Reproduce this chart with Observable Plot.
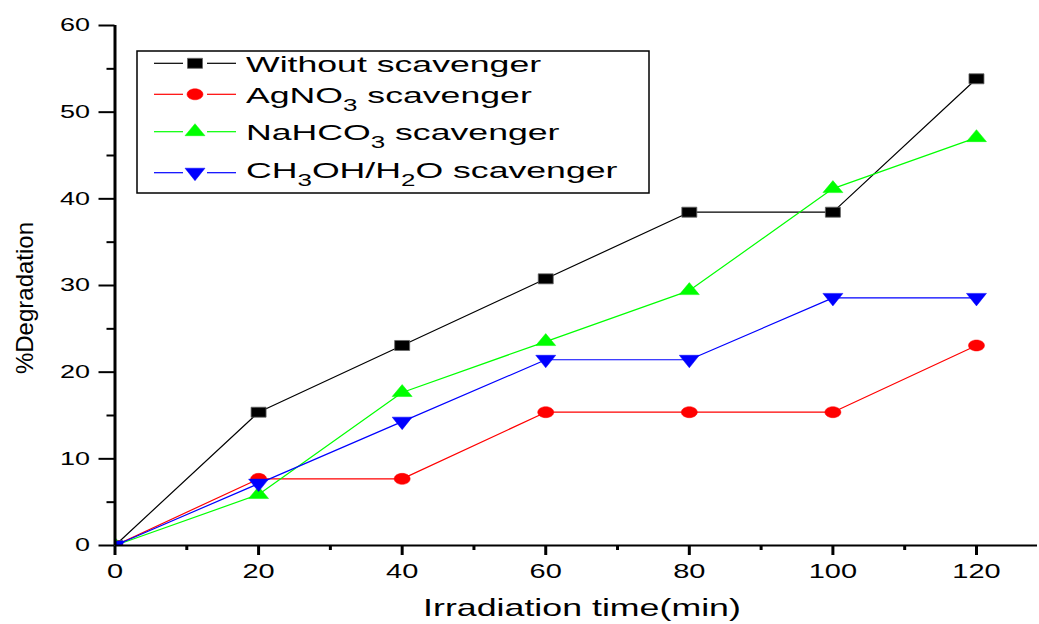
<!DOCTYPE html>
<html>
<head>
<meta charset="utf-8">
<script src="https://cdn.jsdelivr.net/npm/d3@7"></script>
<script src="https://cdn.jsdelivr.net/npm/@observablehq/plot@0.6"></script>
<style>
  html, body { margin: 0; padding: 0; background: #fff; }
  #chart { width: 1039px; height: 624px; }
</style>
</head>
<body>
<div id="chart"></div>
<script>
// ---- data ----
const times = [0, 20, 40, 60, 80, 100, 120];
const withoutScavenger = [0, 15.38, 23.08, 30.77, 38.46, 38.46, 53.85];
const agno3Scavenger   = [0, 7.69, 7.69, 15.38, 15.38, 15.38, 23.08];
const nahco3Scavenger  = [0, 5.88, 17.65, 23.53, 29.41, 41.18, 47.06];
const ch3ohScavenger   = [0, 7.14, 14.29, 21.43, 21.43, 28.57, 28.57];

const seriesNames = ["Without scavenger", "AgNO3 scavenger", "NaHCO3 scavenger", "CH3OH/H2O scavenger"];
const seriesColors = ["#000000", "#ff0000", "#00ff00", "#0000ff"];
const xMajorTicks = [0, 20, 40, 60, 80, 100, 120];
const xMinorTicks = [10, 30, 50, 70, 90, 110];
const yMajorTicks = [0, 10, 20, 30, 40, 50, 60];
const yMinorTicks = [5, 15, 25, 35, 45, 55];
const xTitle = "Irradiation time(min)";
const yTitle = "%Degradation";

// ---- symbols (stretched like the reference) ----
const squareSym = {draw(ctx) { ctx.moveTo(-7.5, -5); ctx.lineTo(7.5, -5); ctx.lineTo(7.5, 5); ctx.lineTo(-7.5, 5); ctx.closePath(); }};
const ellipseSym = {draw(ctx) {
  const rx = 8, ry = 5.5, k = 0.5523;
  ctx.moveTo(rx, 0);
  ctx.bezierCurveTo(rx, ry * k, rx * k, ry, 0, ry);
  ctx.bezierCurveTo(-rx * k, ry, -rx, ry * k, -rx, 0);
  ctx.bezierCurveTo(-rx, -ry * k, -rx * k, -ry, 0, -ry);
  ctx.bezierCurveTo(rx * k, -ry, rx, -ry * k, rx, 0);
  ctx.closePath();
}};
const triUpSym = {draw(ctx) { ctx.moveTo(0, -8); ctx.lineTo(10, 4); ctx.lineTo(-10, 4); ctx.closePath(); }};
const triDownSym = {draw(ctx) { ctx.moveTo(0, 8); ctx.lineTo(10, -4.5); ctx.lineTo(-10, -4.5); ctx.closePath(); }};
const seriesSymbols = [squareSym, ellipseSym, triUpSym, triDownSym];
const seriesValues = [withoutScavenger, agno3Scavenger, nahco3Scavenger, ch3ohScavenger];

const series = seriesValues.map((vals, s) => times.map((t, i) => ({time: t, value: vals[i], s})));

const lineMarks = series.map((d, s) => Plot.line(d, {x: "time", y: "value", stroke: seriesColors[s], strokeWidth: 1.2}));
const dotMarks = series.map((d, s) => Plot.dot(d, {
  x: "time", y: "value", symbol: seriesSymbols[s], r: 6,
  fill: seriesColors[s], stroke: s === 0 ? "#666" : seriesColors[s], strokeWidth: s === 0 ? 0.8 : 0.5, clip: true
}));

const svg = Plot.plot({
  width: 1039, height: 624,
  marginLeft: 114.5, marginRight: 2, marginTop: 25, marginBottom: 79,
  x: {domain: [0, 128.5], label: null},
  y: {domain: [0, 60], label: null},
  style: {fontFamily: "'Liberation Sans', Arial, sans-serif", background: "white", color: "black", overflow: "visible"},
  marks: [
    Plot.axisX(xMajorTicks, {anchor: "bottom", tickSize: 10, tickPadding: 8, strokeWidth: 3, fontSize: 20, label: null}),
    Plot.axisX(xMinorTicks, {anchor: "bottom", tickSize: 5, strokeWidth: 3, tickFormat: () => "", label: null}),
    Plot.axisY(yMajorTicks, {anchor: "left", tickSize: 16, tickPadding: 9, strokeWidth: 2, fontSize: 18, label: null}),
    Plot.axisY(yMinorTicks, {anchor: "left", tickSize: 8, strokeWidth: 2, tickFormat: () => "", label: null}),
    ...lineMarks,
    ...dotMarks,
    Plot.ruleY([0], {strokeWidth: 2}),
    Plot.ruleX([0], {strokeWidth: 3})
  ]
});

document.getElementById("chart").appendChild(svg);

// stretch tick labels horizontally like the reference
function stretch(sel, sx, fs) {
  svg.querySelectorAll(sel).forEach(g => {
    g.setAttribute("font-size", fs);
    g.style.fontSize = fs + "px";
    g.querySelectorAll("text").forEach(t => {
      const tr = t.getAttribute("transform");
      if (tr) t.setAttribute("transform", tr + ` scale(${sx},1)`);
    });
  });
}
stretch('g[aria-label="x-axis tick label"]', 1.45, 20);
stretch('g[aria-label="y-axis tick label"]', 1.5, 18);

const root = d3.select(svg);
const FONT = "'Liberation Sans', Arial, sans-serif";

// axis titles
root.append("text")
  .attr("transform", "translate(582,616) scale(1.49,1)")
  .attr("text-anchor", "middle").attr("font-size", 24).attr("font-family", FONT).attr("fill", "black")
  .text(xTitle);
root.append("text")
  .attr("transform", "translate(24,298) rotate(-90)")
  .attr("text-anchor", "middle").attr("dominant-baseline", "central")
  .attr("font-size", 24).attr("font-family", FONT).attr("fill", "black")
  .text(yTitle);

// legend
const lg = root.append("g").attr("font-family", FONT).attr("text-anchor", "start");
lg.append("rect").attr("x", 137).attr("y", 51).attr("width", 512).attr("height", 142)
  .attr("fill", "white").attr("stroke", "black").attr("stroke-width", 1.5);
const rowY = [63.3, 94.3, 131.7, 172.7];
const baseY = [71.7, 102.7, 140, 178.3];
const labelParts = [
  [["Without scavenger", 0]],
  [["AgNO", 0], ["3", 1], [" scavenger", 0]],
  [["NaHCO", 0], ["3", 1], [" scavenger", 0]],
  [["CH", 0], ["3", 1], ["OH/H", 0], ["2", 1], ["O scavenger", 0]]
];
seriesNames.forEach((name, s) => {
  const y = rowY[s];
  lg.append("line").attr("x1", 154).attr("x2", 183).attr("y1", y).attr("y2", y).attr("stroke", seriesColors[s]).attr("stroke-width", 1.2);
  lg.append("line").attr("x1", 207).attr("x2", 236).attr("y1", y).attr("y2", y).attr("stroke", seriesColors[s]).attr("stroke-width", 1.2);
  lg.append("path").attr("d", d3.symbol().type(seriesSymbols[s])())
    .attr("transform", `translate(195,${y})`)
    .attr("fill", seriesColors[s]).attr("stroke", s === 0 ? "#666" : seriesColors[s]).attr("stroke-width", s === 0 ? 0.8 : 0.5);
  const t = lg.append("text").attr("transform", `translate(246,${baseY[s]}) scale(1.62,1)`)
    .attr("text-anchor", "start")
    .attr("font-size", 22).attr("fill", "black").style("white-space", "pre");
  let sub = false;
  labelParts[s].forEach(([txt, isSub]) => {
    const ts = t.append("tspan").text(txt);
    if (isSub && !sub) { ts.attr("font-size", 16).attr("dy", 8); sub = true; }
    else if (!isSub && sub) { ts.attr("dy", -8); sub = false; }
  });
});
</script>
</body>
</html>
